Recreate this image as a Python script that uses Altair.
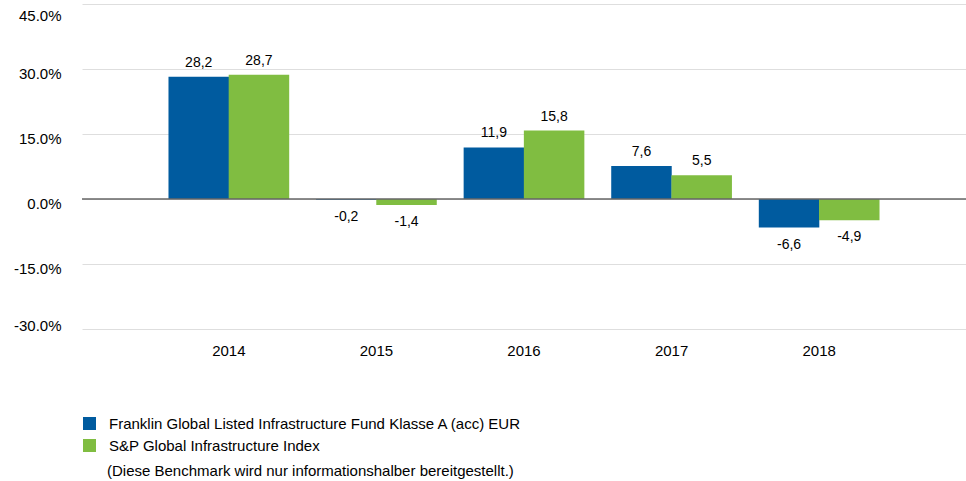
import altair as alt
import pandas as pd

years = ["2014", "2015", "2016", "2017", "2018"]
series_names = [
    "Franklin Global Listed Infrastructure Fund Klasse A (acc) EUR",
    "S&P Global Infrastructure Index",
]
fund_values = [28.2, -0.2, 11.9, 7.6, -6.6]
index_values = [28.7, -1.4, 15.8, 5.5, -4.9]
colors = ["#005b9f", "#80bd41"]
y_ticks = [-30, -15, 0, 15, 30, 45]
note_text = "(Diese Benchmark wird nur informationshalber bereitgestellt.)"

rows = []
for i, y in enumerate(years):
    for name, vals in zip(series_names, [fund_values, index_values]):
        v = vals[i]
        rows.append({
            "year": y,
            "series": name,
            "value": v,
            "label": f"{v:.1f}".replace(".", ","),
        })
df = pd.DataFrame(rows)

FONT = "Liberation Sans"

x_enc = alt.X("year:N", sort=years, title=None,
              scale=alt.Scale(paddingInner=0.184, paddingOuter=0.587),
              axis=alt.Axis(labelAngle=0, ticks=False, domain=False, grid=False,
                            labelFontSize=15, labelFont=FONT, labelColor="#000",
                            labelPadding=14))
xoff = alt.XOffset("series:N", sort=series_names,
                   scale=alt.Scale(paddingInner=0, paddingOuter=0))
y_scale = alt.Scale(domain=[-30, 45], nice=False, zero=False)

bars = alt.Chart(df).mark_bar(size=60.5).encode(
    x=x_enc,
    xOffset=xoff,
    y=alt.Y("value:Q", scale=y_scale, title=None,
            axis=alt.Axis(values=y_ticks,
                          labelExpr="replace(format(datum.value, '.1f'), '\u2212', '-') + '%'",
                          ticks=False, domain=False, grid=True,
                          gridColor="#dedede", gridWidth=1,
                          labelFontSize=15, labelFont=FONT, labelColor="#000",
                          labelPadding=21, labelFlush=True, labelOffset=4)),
    color=alt.Color("series:N", sort=series_names,
                    scale=alt.Scale(domain=series_names, range=colors),
                    legend=alt.Legend(title=None, orient="none", legendX=0, legendY=412,
                                      direction="vertical", symbolType="square",
                                      symbolSize=169, symbolStrokeWidth=0,
                                      labelFontSize=15, labelFont=FONT, labelColor="#000",
                                      labelOffset=12, rowPadding=6, padding=0,
                                      labelLimit=800)),
)

zero = alt.Chart(pd.DataFrame({"z": [0]})).mark_rule(color="#666666", strokeWidth=1.5).encode(
    y=alt.Y("z:Q", scale=y_scale)
)

def label_layer(cond, dy):
    return alt.Chart(df).transform_filter(cond).mark_text(
        fontSize=14, font=FONT, color="#000", baseline="middle", dy=dy
    ).encode(
        x=alt.X("year:N", sort=years),
        xOffset=xoff,
        y=alt.Y("value:Q", scale=y_scale),
        text="label:N",
    )

pos_labels = label_layer("datum.value >= 0", -14)
neg_labels = label_layer("datum.value < 0", 17)

note = alt.Chart(pd.DataFrame({"t": [note_text]})).mark_text(
    fontSize=15, font=FONT, color="#000", align="left", baseline="middle"
).encode(x=alt.value(25), y=alt.value(467), text="t:N")

chart = alt.layer(bars, zero, pos_labels, neg_labels, note).properties(
    width=884, height=325,
    background="white",
    autosize=alt.AutoSizeParams(type="none"),
    padding={"left": 82, "top": 4, "right": 0, "bottom": 152},
).configure_view(stroke=None)

chart.save("out.html", embed_options={"renderer": "svg", "actions": False})
